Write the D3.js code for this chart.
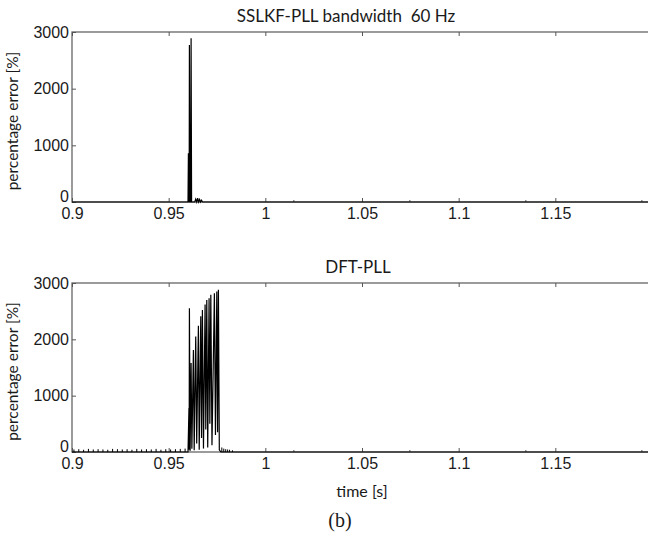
<!DOCTYPE html>
<html>
<head>
<meta charset="utf-8">
<script src="https://cdn.jsdelivr.net/npm/d3@7"></script>
<style>
	body { margin: 0; background: #fff; }
	svg { display: block; font-family: Lato, "Open Sans", sans-serif; }
	.tick text { font-size: 16px; fill: #1a1a1a; }
</style>
</head>
<body>
<svg width="648" height="536"></svg>
<script>
// x axis
const xTicks = [0.9, 0.95, 1, 1.05, 1.1, 1.15];
const xTickLabels = ["0.9", "0.95", "1", "1.05", "1.1", "1.15"];
const xMinorTicks = [1.0145, 1.0745, 1.1345, 1.1945];
const yTicks = [0, 1000, 2000, 3000];

// SSLKF-PLL trace (time [s], percentage error [%])
const sslkfTime = [0.9, 0.9600, 0.96021, 0.96040, 0.96060, 0.96073, 0.96100, 0.96140, 0.96160, 0.96185,
	0.9635, 0.9640, 0.9645, 0.9650, 0.9655, 0.9660, 0.9665, 0.9670, 0.9675, 1.2];
const sslkfError = [0, 0, 860, 30, 0, 2770, 0, 0, 2890, 0,
	0, 50, 0, 70, 0, 45, 0, 30, 0, 0];

// DFT-PLL trace
const dftTime = [0.9, 0.9600, 0.96050, 0.96060, 0.96073, 0.96110, 0.96160, 0.96200, 0.96280, 0.96320,
	0.96400, 0.96450, 0.96538, 0.96580, 0.96661, 0.96700, 0.96745, 0.96800, 0.96884, 0.96920,
	0.96971, 0.97020, 0.97090, 0.97130, 0.97180, 0.97240, 0.97365, 0.97420, 0.97490, 0.97530,
	0.97573, 0.97620, 0.9770, 1.2];
const dftError = [0, 0, 780, 40, 2550, 20, 1580, 60, 1810, 30,
	2050, 150, 2240, 40, 2410, 250, 2520, 60, 2620, 400,
	2700, 80, 2730, 500, 2790, 120, 2820, 300, 2850, 350,
	2880, 40, 0, 0];

// small ripple before and after the burst (DFT-PLL)
const dftRippleTime = [0.9010, 0.9035, 0.9060, 0.9085, 0.9110, 0.9135, 0.9160, 0.9185, 0.9210, 0.9235,
	0.9260, 0.9285, 0.9310, 0.9335, 0.9360, 0.9385, 0.9410, 0.9435, 0.9460, 0.9485,
	0.9510, 0.9535, 0.9560, 0.9585, 0.9775, 0.9785, 0.9795, 0.9805, 0.9815, 0.9830];
const dftRippleError = [45, 50, 40, 55, 45, 50, 45, 40, 55, 50,
	45, 50, 40, 55, 45, 50, 45, 55, 40, 50,
	45, 50, 55, 60, 80, 60, 50, 45, 40, 30];

const margin = { left: 72, right: -4 };
const width = 648 - margin.left - margin.right;

let svg = d3.select('svg');

let x = d3.scaleLinear()
	.domain([0.9, 1.2])
	.range([margin.left, margin.left + width]);

const panels = [
	{ title: "SSLKF-PLL bandwidth  60 Hz", titleShift: -16, top: 32, bottom: 202, time: sslkfTime, error: sslkfError, rippleTime: [], rippleError: [], xlabel: null },
	{ title: "DFT-PLL", titleShift: -4, top: 283, bottom: 452, time: dftTime, error: dftError, rippleTime: dftRippleTime, rippleError: dftRippleError, xlabel: "time [s]" }
];

function drawPanel(p){
	let y = d3.scaleLinear()
		.domain([0, 3000])
		.range([p.bottom, p.top]);

	let g = svg.append('g').classed('panel', true);

	// frame
	g.append('rect')
		.attr('x', x(0.9))
		.attr('y', y(3000))
		.attr('width', x(1.2) - x(0.9))
		.attr('height', y(0) - y(3000))
		.attr('fill', 'none')
		.attr('stroke', '#666')
		.attr('stroke-width', 1.3);

	// axes, ticks inside
	g.append('g')
		.attr('transform', 'translate(0,' + y(0) + ')')
		.call(d3.axisBottom(x).tickValues(xTicks).tickFormat((d, i) => xTickLabels[i])
			.tickSizeInner(-4).tickSizeOuter(0).tickPadding(6))
		.call(a => a.select('.domain').remove());

	g.append('g')
		.attr('transform', 'translate(0,' + y(0) + ')')
		.call(d3.axisBottom(x).tickValues(xMinorTicks).tickFormat('')
			.tickSizeInner(-2).tickSizeOuter(0))
		.call(a => a.select('.domain').remove());

	g.append('g')
		.attr('transform', 'translate(0,' + y(3000) + ')')
		.call(d3.axisTop(x).tickValues(xTicks).tickFormat('')
			.tickSizeInner(-4).tickSizeOuter(0))
		.call(a => a.select('.domain').remove());

	let yAxis = g.append('g')
		.attr('transform', 'translate(' + x(0.9) + ',0)')
		.call(d3.axisLeft(y).tickValues(yTicks).tickFormat(d3.format('d'))
			.tickSizeInner(-4).tickSizeOuter(0).tickPadding(3))
		.call(a => a.select('.domain').remove());
	// the zero label sits a little higher, as in the source figure
	yAxis.selectAll('.tick text').filter(d => d === 0).attr('dy', '-0.02em');

	g.append('g')
		.attr('transform', 'translate(' + x(1.2) + ',0)')
		.call(d3.axisRight(y).tickValues(yTicks).tickFormat('')
			.tickSizeInner(-4).tickSizeOuter(0))
		.call(a => a.select('.domain').remove());

	g.selectAll('.tick line').attr('stroke', '#555');

	// data
	let line = d3.line()
		.x((d, i) => x(p.time[i]))
		.y(d => y(d));

	g.append('path')
		.datum(p.error)
		.attr('fill', 'none')
		.attr('stroke', '#000')
		.attr('stroke-width', 1.2)
		.attr('stroke-linejoin', 'miter')
		.attr('d', line);

	g.selectAll('line.ripple')
		.data(p.rippleError)
		.enter()
		.append('line')
		.classed('ripple', true)
		.attr('x1', (d, i) => x(p.rippleTime[i]))
		.attr('x2', (d, i) => x(p.rippleTime[i]))
		.attr('y1', y(0))
		.attr('y2', d => y(d))
		.attr('stroke', '#000')
		.attr('stroke-width', 1);

	// labels
	g.append('text')
		.attr('x', (x(0.9) + x(1.2)) / 2 + p.titleShift)
		.attr('y', p.top - 10)
		.attr('text-anchor', 'middle')
		.style('white-space', 'pre')
		.style('font-size', '17px')
		.attr('fill', '#1a1a1a')
		.text(p.title);

	g.append('text')
		.attr('transform', 'translate(18,' + ((p.top + p.bottom) / 2 + 4) + ') rotate(-90)')
		.attr('text-anchor', 'middle')
		.style('font-size', '15.5px')
		.attr('fill', '#1a1a1a')
		.text('percentage error [%]');

	if (p.xlabel) {
		g.append('text')
			.attr('x', (x(0.9) + x(1.2)) / 2)
			.attr('y', p.bottom + 45)
			.attr('text-anchor', 'middle')
			.style('font-size', '16px')
			.attr('fill', '#1a1a1a')
			.text(p.xlabel);
	}
}

panels.forEach(drawPanel);

svg.append('text')
	.attr('x', 340)
	.attr('y', 527)
	.attr('text-anchor', 'middle')
	.style('font-family', '"Liberation Serif", serif')
	.style('font-size', '20px')
	.attr('fill', '#1a1a1a')
	.text('(b)');
</script>
</body>
</html>
